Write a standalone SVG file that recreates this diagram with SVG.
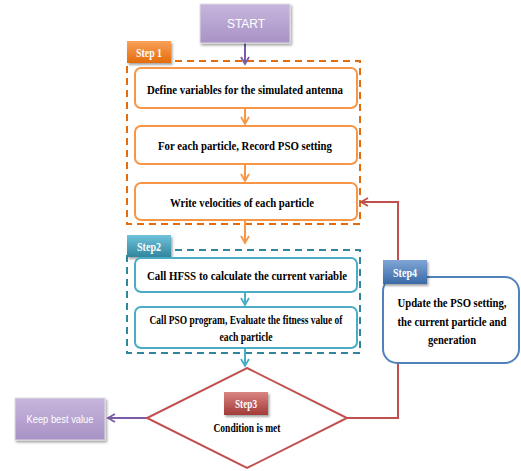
<svg xmlns="http://www.w3.org/2000/svg" width="521" height="471" viewBox="0 0 521 471">
<defs>
<linearGradient id="gPurple" x1="0" y1="0" x2="0" y2="1"><stop offset="0" stop-color="#C7B6DD"/><stop offset="1" stop-color="#A892C6"/></linearGradient>
<linearGradient id="gOrange" x1="0" y1="0" x2="0" y2="1"><stop offset="0" stop-color="#F9A15A"/><stop offset="1" stop-color="#E46C0A"/></linearGradient>
<linearGradient id="gTeal" x1="0" y1="0" x2="0" y2="1"><stop offset="0" stop-color="#6FC3DA"/><stop offset="1" stop-color="#31859C"/></linearGradient>
<linearGradient id="gRed" x1="0" y1="0" x2="0" y2="1"><stop offset="0" stop-color="#DA8583"/><stop offset="1" stop-color="#A23A37"/></linearGradient>
<linearGradient id="gBlue" x1="0" y1="0" x2="0" y2="1"><stop offset="0" stop-color="#7FA6D6"/><stop offset="1" stop-color="#3A6AA6"/></linearGradient>
<filter id="sh" x="-20%" y="-20%" width="150%" height="160%"><feDropShadow dx="1.5" dy="2" stdDeviation="1" flood-color="#000" flood-opacity="0.35"/></filter>
<marker id="aO" markerWidth="10" markerHeight="10" refX="8" refY="5" orient="auto" markerUnits="userSpaceOnUse"><path d="M1,1 L8,5 L1,9" fill="none" stroke="#F79646" stroke-width="1.8"/></marker>
<marker id="aT" markerWidth="10" markerHeight="10" refX="8" refY="5" orient="auto" markerUnits="userSpaceOnUse"><path d="M1,1 L8,5 L1,9" fill="none" stroke="#4BACC6" stroke-width="1.8"/></marker>
<marker id="aP" markerWidth="10" markerHeight="10" refX="8" refY="5" orient="auto" markerUnits="userSpaceOnUse"><path d="M1,1 L8,5 L1,9" fill="none" stroke="#7A5CA6" stroke-width="1.8"/></marker>
<marker id="aR" markerWidth="10" markerHeight="10" refX="8" refY="5" orient="auto" markerUnits="userSpaceOnUse"><path d="M1,1 L8,5 L1,9" fill="none" stroke="#C0504D" stroke-width="1.8"/></marker>
</defs>
<style>
.t{font-family:"Liberation Serif","Times New Roman",serif;font-weight:bold;fill:#000;text-anchor:middle}
.s{font-family:"Liberation Sans",Arial,sans-serif;fill:#fff;text-anchor:middle}
.tab{font-family:"Liberation Serif","Times New Roman",serif;font-weight:bold;fill:#fff;text-anchor:middle;font-size:12px}
.ob{fill:#fff;stroke:#F79646;stroke-width:2}
.tb{fill:#fff;stroke:#4BACC6;stroke-width:2}
</style>
<rect width="521" height="471" fill="#fff"/>

<g id="step1-frame">
<rect x="127" y="61" width="233" height="163" fill="none" stroke="#E46C0A" stroke-width="2" stroke-dasharray="7,5"/>
<rect x="127" y="41" width="44" height="22" fill="url(#gOrange)" filter="url(#sh)"/>
<text class="tab" x="149" y="57" textLength="26" lengthAdjust="spacingAndGlyphs">Step 1</text>
</g>
<g id="step2-frame">
<rect x="127" y="250" width="233" height="103" fill="none" stroke="#31859C" stroke-width="2" stroke-dasharray="7,5"/>
<rect x="127" y="235" width="44" height="22" fill="url(#gTeal)" filter="url(#sh)"/>
<text class="tab" x="149" y="251" textLength="24" lengthAdjust="spacingAndGlyphs">Step2</text>
</g>

<g id="connectors" fill="none" stroke-width="2">
<line x1="245" y1="43" x2="245" y2="64" stroke="#7A5CA6" marker-end="url(#aP)"/>
<line x1="245" y1="108" x2="245" y2="124" stroke="#F79646" marker-end="url(#aO)"/>
<line x1="245" y1="164" x2="245" y2="181" stroke="#F79646" marker-end="url(#aO)"/>
<line x1="245" y1="220" x2="245" y2="243" stroke="#F79646" marker-end="url(#aO)"/>
<line x1="245" y1="292" x2="245" y2="305" stroke="#4BACC6" marker-end="url(#aT)"/>
<line x1="245" y1="348" x2="245" y2="366" stroke="#4BACC6" marker-end="url(#aT)"/>
<line x1="147" y1="418" x2="108" y2="418" stroke="#7A5CA6" marker-end="url(#aP)"/>
<polyline points="347,418 398,418 398,202 361,202" stroke="#C0504D" marker-end="url(#aR)"/>
</g>

<g id="start">
<rect x="200" y="4" width="90" height="39" fill="url(#gPurple)" stroke="#ddd" stroke-width="1" filter="url(#sh)"/>
<text class="s" x="246" y="28" font-size="12">START</text>
</g>

<g id="define">
<rect class="ob" x="135" y="68" width="222" height="40" rx="6"/>
<text class="t" x="245" y="94" font-size="13" textLength="196" lengthAdjust="spacingAndGlyphs">Define variables for the simulated  antenna</text>
</g>
<g id="record">
<rect class="ob" x="135" y="126" width="222" height="38" rx="6"/>
<text class="t" x="245" y="150" font-size="13" textLength="174" lengthAdjust="spacingAndGlyphs">For each particle,  Record PSO setting</text>
</g>
<g id="write">
<rect class="ob" x="135" y="183" width="222" height="37" rx="6"/>
<text class="t" x="242" y="207" font-size="13" textLength="144" lengthAdjust="spacingAndGlyphs">Write  velocities of each particle</text>
</g>

<g id="hfss">
<rect class="tb" x="135" y="258" width="222" height="34" rx="6"/>
<text class="t" x="247" y="280" font-size="13" textLength="200" lengthAdjust="spacingAndGlyphs">Call HFSS to calculate the current  variable</text>
</g>
<g id="evaluate">
<rect class="tb" x="135" y="307" width="222" height="41" rx="6"/>
<text class="t" x="246" y="324" font-size="11.5" textLength="193" lengthAdjust="spacingAndGlyphs">Call PSO program, Evaluate the fitness value of</text>
<text class="t" x="246" y="341" font-size="11.5" textLength="53" lengthAdjust="spacingAndGlyphs">each particle</text>
</g>

<g id="condition">
<polygon points="247,368 347,418 247,468 147,418" fill="#fff" stroke="#C0504D" stroke-width="2"/>
<rect x="224" y="392" width="44" height="23" fill="url(#gRed)" filter="url(#sh)"/>
<text class="tab" x="246" y="408" textLength="22" lengthAdjust="spacingAndGlyphs">Step3</text>
<text class="t" x="247" y="432" font-size="12" textLength="67" lengthAdjust="spacingAndGlyphs">Condition is met</text>
</g>

<g id="keep">
<rect x="15" y="398" width="90" height="42" fill="url(#gPurple)" stroke="#ddd" stroke-width="1" filter="url(#sh)"/>
<text class="s" x="60" y="423" font-size="11" textLength="67" lengthAdjust="spacingAndGlyphs">Keep best value</text>
</g>

<g id="update">
<rect x="383" y="277" width="136" height="86" rx="14" fill="#fff" stroke="#4F81BD" stroke-width="2"/>
<rect x="383" y="260" width="44" height="24" fill="url(#gBlue)" filter="url(#sh)"/>
<text class="tab" x="405" y="277" textLength="24" lengthAdjust="spacingAndGlyphs">Step4</text>
<text class="t" x="452" y="307" font-size="13" textLength="109" lengthAdjust="spacingAndGlyphs">Update the PSO setting,</text>
<text class="t" x="452" y="326" font-size="13" textLength="109" lengthAdjust="spacingAndGlyphs">the current  particle and</text>
<text class="t" x="452" y="344" font-size="13" textLength="48" lengthAdjust="spacingAndGlyphs">generation</text>
</g>
</svg>
